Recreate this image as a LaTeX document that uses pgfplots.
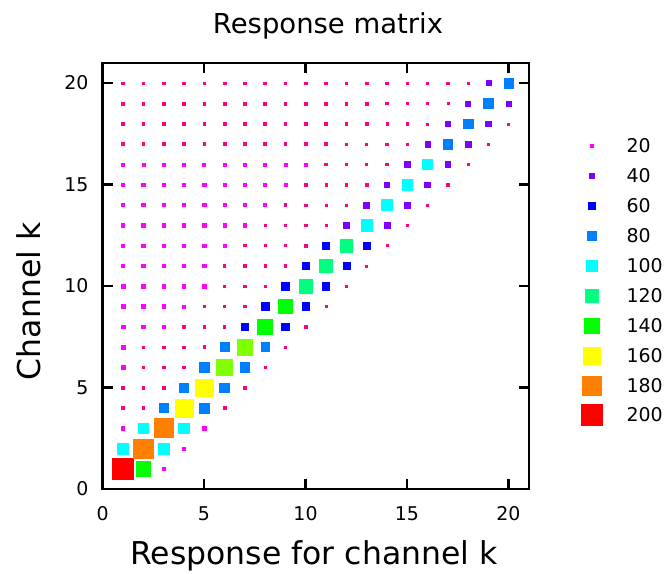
\documentclass[border=0pt]{standalone}
\usepackage{fontspec}
\setmainfont{DejaVu Sans}
\usepackage{pgfplots}
\pgfplotsset{compat=1.18}

% colour bins, lowest to highest
\definecolor{c0}{HTML}{FF0080}
\definecolor{c1}{HTML}{FF00FF}
\definecolor{c2}{HTML}{8000FF}
\definecolor{c3}{HTML}{0000FF}
\definecolor{c4}{HTML}{0080FF}
\definecolor{c5}{HTML}{00FFFF}
\definecolor{c6}{HTML}{00FF80}
\definecolor{c7}{HTML}{00FF00}
\definecolor{c8}{HTML}{80FF00}
\definecolor{c9}{HTML}{FFFF00}
\definecolor{c10}{HTML}{FF8000}
\definecolor{c11}{HTML}{FF0000}

\newcommand\tickfont{\fontsize{14.2}{16}\selectfont}
\newcommand\labfont{\fontsize{23.6}{26}\selectfont}

\pgfplotsset{
  boxmark/.style={
    scatter, only marks, mark=square*,
    point meta=\thisrow{v},
    visualization depends on={\thisrow{v}\as\val},
    scatter/@pre marker code/.code={%
      \pgfmathsetmacro\ms{0.375+0.0375*\val}%
      \pgfmathtruncatemacro\ci{(\val>=19)+(\val>=30)+(\val>=50)+(\val>=70)+(\val>=90)+(\val>=110)+(\val>=130)+(\val>=145)+(\val>=155)+(\val>=170)+(\val>=190)}%
      \scope[mark size=\ms pt, color=c\ci, line width=0.1pt]},
    scatter/@post marker code/.code={\endscope},
  },
}

\begin{document}
\begin{tikzpicture}
\useasboundingbox (-76.9pt,-63.75pt) rectangle (423.4pt,366.75pt);
\begin{axis}[
  at={(0,0)}, anchor=south west,
  x=15.225pt, y=15.225pt,
  xmin=0, xmax=21, ymin=0, ymax=21,
  xtick={0,5,...,20}, ytick={0,5,...,20},
  tick pos=both, tick align=inside,
  major tick length=7.5pt,
  axis line style={line width=1.6pt},
  every tick/.style={black, line width=1.6pt},
  /pgf/number format/assume math mode=true,
  xticklabel style={font=\tickfont, yshift=-9.5pt},
  yticklabel style={font=\tickfont, xshift=-7pt},
  title={Response matrix},
  title style={font=\fontsize{20.6}{24}\selectfont, at={(axis description cs:0.529,1)}, anchor=base, yshift=16pt},
  xlabel={Response for channel k},
  xlabel style={font=\labfont, at={(axis description cs:0.496,0)}, anchor=base, yshift=-57pt},
  ylabel={Channel k},
  ylabel style={font=\labfont, at={(axis description cs:-0.1455,0.44)}, anchor=base},
  clip=false,
]
\addplot[boxmark] table {
x y v
1 1 200
2 1 132
3 1 25
1 2 100
2 2 185
3 2 98
4 2 24
1 3 22
2 3 95
3 3 180
4 3 95
5 3 22
1 4 16
2 4 17
3 4 86
4 4 168
5 4 88
6 4 17
1 5 16
2 5 16
3 5 17
4 5 86
5 5 165
6 5 87
7 5 17
1 6 26
2 6 15
3 6 15
4 6 16
5 6 82
6 6 154
7 6 82
8 6 16
1 7 26
2 7 15
3 7 15
4 7 15
5 7 16
6 7 76
7 7 148
8 7 76
9 7 15
1 8 26
2 8 26
3 8 20
4 8 14
5 8 14
6 8 15
7 8 68
8 8 140
9 8 68
10 8 13
1 9 25
2 9 25
3 9 25
4 9 20
5 9 12
6 9 12
7 9 12
8 9 66
9 9 135
10 9 65
11 9 14
1 10 25
2 10 25
3 10 25
4 10 24
5 10 24
6 10 12
7 10 12
8 10 12
9 10 64
10 10 125
11 10 62
12 10 14
1 11 24
2 11 24
3 11 24
4 11 24
5 11 24
6 11 14
7 11 13
8 11 13
9 11 14
10 11 60
11 11 120
12 11 60
13 11 11
1 12 24
2 12 24
3 12 24
4 12 24
5 12 24
6 12 24
7 12 13
8 12 13
9 12 13
10 12 14
11 12 58
12 12 115
13 12 58
14 12 11
1 13 23
2 13 23
3 13 23
4 13 23
5 13 23
6 13 23
7 13 23
8 13 13
9 13 13
10 13 13
11 13 14
12 13 48
13 13 105
14 13 48
15 13 13
1 14 23
2 14 23
3 14 23
4 14 23
5 14 23
6 14 23
7 14 23
8 14 23
9 14 15
10 14 13
11 14 13
12 14 14
13 14 47
14 14 100
15 14 47
16 14 12
1 15 22
2 15 22
3 15 22
4 15 22
5 15 22
6 15 22
7 15 22
8 15 22
9 15 22
10 15 14
11 15 14
12 15 14
13 15 14
14 15 46
15 15 98
16 15 46
17 15 12
1 16 21
2 16 21
3 16 21
4 16 21
5 16 21
6 16 21
7 16 21
8 16 21
9 16 21
10 16 21
11 16 15
12 16 13
13 16 13
14 16 13
15 16 45
16 16 93
17 16 45
18 16 12
1 17 17
2 17 17
3 17 17
4 17 17
5 17 17
6 17 17
7 17 17
8 17 17
9 17 17
10 17 17
11 17 17
12 17 13
13 17 13
14 17 13
15 17 13
16 17 44
17 17 88
18 17 44
19 17 10
1 18 17
2 18 17
3 18 17
4 18 17
5 18 17
6 18 17
7 18 17
8 18 17
9 18 17
10 18 17
11 18 17
12 18 17
13 18 14
14 18 11
15 18 11
16 18 10
17 18 43
18 18 86
19 18 43
20 18 10
1 19 17
2 19 17
3 19 17
4 19 17
5 19 17
6 19 17
7 19 17
8 19 17
9 19 17
10 19 17
11 19 17
12 19 17
13 19 17
14 19 14
15 19 11
16 19 11
17 19 10
18 19 42
19 19 85
20 19 42
1 20 17
2 20 17
3 20 17
4 20 17
5 20 17
6 20 17
7 20 17
8 20 17
9 20 17
10 20 17
11 20 17
12 20 17
13 20 17
14 20 17
15 20 17
16 20 12
17 20 12
18 20 10
19 20 41
20 20 84
};
\end{axis}

% legend: same frame as the matrix, markers placed right of it
\begin{axis}[
  at={(0,0)}, anchor=south west,
  x=15.225pt, y=15.225pt,
  xmin=0, xmax=21, ymin=0, ymax=21,
  hide axis, clip=false,
  /pgf/number format/assume math mode=true,
]
\addplot[boxmark,
  scatter/@post marker code/.code={\endscope
    \node[anchor=west, black, font=\tickfont, inner sep=0pt] at (26pt,0) {\pgfmathprintnumber{\val}};},
] table {
x y v
24.1 16.90 20
24.1 15.43 40
24.1 13.95 60
24.1 12.48 80
24.1 11.01 100
24.1 9.53 120
24.1 8.06 140
24.1 6.59 160
24.1 5.11 180
24.1 3.64 200
};
\end{axis}
\end{tikzpicture}
\end{document}
